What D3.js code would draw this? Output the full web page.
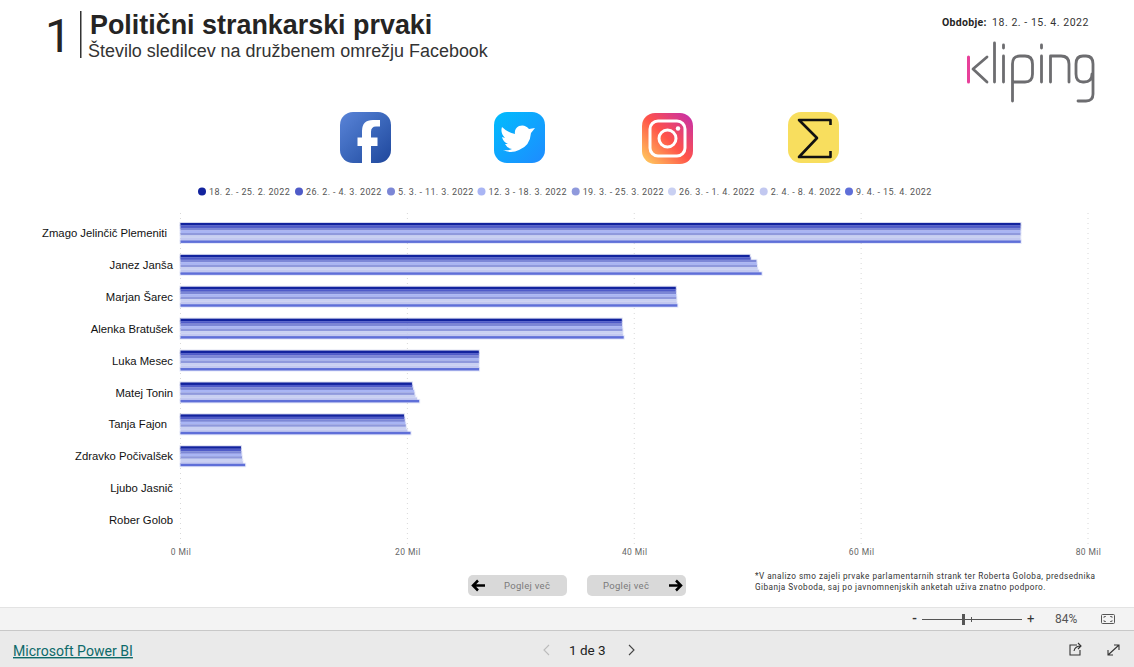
<!DOCTYPE html>
<html><head><meta charset="utf-8">
<style>html,body{margin:0;padding:0;background:#fff;overflow:hidden}svg{display:block}</style>
<script src="https://cdnjs.cloudflare.com/ajax/libs/d3/7.8.5/d3.min.js"></script>
</head><body><svg id="c" width="1134" height="667"></svg>
<script>
const politicians = ["Zmago Jelinčič Plemeniti","Janez Janša","Marjan Šarec","Alenka Bratušek","Luka Mesec","Matej Tonin","Tanja Fajon","Zdravko Počivalšek","Ljubo Jasnič","Rober Golob"];
const periods = ["18. 2. - 25. 2. 2022","26. 2. - 4. 3. 2022","5. 3. - 11. 3. 2022","12. 3 - 18. 3. 2022","19. 3. - 25. 3. 2022","26. 3. - 1. 4. 2022","2. 4. - 8. 4. 2022","9. 4. - 15. 4. 2022"];
const periodColors = ["#12239e","#4f5bc8","#7c87d6","#a9b5f4","#8f99dc","#c9d0f2","#c2c8f0","#5f6fd8"];
const followers = {
 "Zmago Jelinčič Plemeniti":[74.05,74.05,74.05,74.05,74.05,74.05,74.05,74.07],
 "Janez Janša":[50.18,50.26,50.77,50.8,50.82,50.88,51.0,51.23],
 "Marjan Šarec":[43.66,43.66,43.68,43.7,43.71,43.73,43.75,43.8],
 "Alenka Bratušek":[38.9,38.9,38.92,38.94,38.96,38.98,39.0,39.07],
 "Luka Mesec":[26.3,26.3,26.3,26.3,26.3,26.3,26.3,26.32],
 "Matej Tonin":[20.4,20.43,20.5,20.6,20.62,20.7,20.85,21.04],
 "Tanja Fajon":[19.7,19.73,19.77,19.82,19.86,19.9,20.0,20.28],
 "Zdravko Počivalšek":[5.33,5.33,5.36,5.38,5.42,5.46,5.5,5.7],
 "Ljubo Jasnič":[0,0,0,0,0,0,0,0],
 "Rober Golob":[0,0,0,0,0,0,0,0]
};
const xTicks = [0,20,40,60,80];
const title = "Politični strankarski prvaki", subtitle = "Število sledilcev na družbenem omrežju Facebook";
const din = "Roboto, 'Noto Sans', sans-serif", arial = "'Liberation Sans', Arial, sans-serif";

const svg = d3.select("#c");
function txt(g,x,y,s,size,fill,opts={}){
  const t=g.append("text").attr("x",x).attr("y",y).text(s).attr("font-size",size).attr("fill",fill)
   .attr("font-family",opts.family||arial).attr("font-weight",opts.weight||400).attr("text-anchor",opts.anchor||"start");
  if(opts.ls) t.attr("letter-spacing",opts.ls);
  return t;
}
// header
txt(svg,45,52,"1",47,"#252423",{family:"Roboto",weight:400});
svg.append("rect").attr("x",80).attr("y",11).attr("width",1.5).attr("height",47).attr("fill","#333");
txt(svg,90,34,title,26.9,"#252423",{weight:700});
txt(svg,88,57,subtitle,17.95,"#333");
txt(svg,942,26,"Obdobje:",10.5,"#252423",{family:din,weight:700,ls:.3});
txt(svg,992,26,"18. 2. - 15. 4. 2022",10.5,"#333",{family:din,ls:.55});

// kliping logo
const lg=svg.append("g").attr("fill","none").attr("stroke","#6d6d70").attr("stroke-width",2.8).attr("stroke-linecap","round").attr("stroke-linejoin","round");
lg.append("path").attr("d","M968.5 57V82").attr("stroke","#e8409a").attr("stroke-width",3);
lg.append("path").attr("d","M987 57L973 69L987 82");
lg.append("path").attr("d","M994.5 43V82");
lg.append("path").attr("d","M1003.5 45V48M1003.5 56V82");
lg.append("path").attr("d","M1012.5 101V64Q1012.5 56 1020 56H1025Q1032.5 56 1032.5 64V74Q1032.5 82 1025 82H1014");
lg.append("path").attr("d","M1041.5 45V48M1041.5 56V82");
lg.append("path").attr("d","M1050.5 82V56H1061Q1069 56 1069 64V82");
lg.append("path").attr("d","M1092 74Q1092 82 1084 82H1083Q1076 82 1076 74V64Q1076 56 1083 56H1086Q1093 56 1093 64V94Q1093 101 1086 101H1078");

// social icons
const defs=svg.append("defs");
function grad(id,stops,x1=0,y1=0,x2=1,y2=1){const g=defs.append("linearGradient").attr("id",id).attr("x1",x1).attr("y1",y1).attr("x2",x2).attr("y2",y2);
 stops.forEach((c,i)=>g.append("stop").attr("offset",i/(stops.length-1)).attr("stop-color",c));}
grad("fb",["#5a84d8","#3b67bb","#1f479c"]);
grad("tw",["#00bdfd","#1e8bff"],0,0,1,1);
grad("ig",["#ffd45f","#ff5349","#c32cb0"],0,1,1,0);
const ic=(x,y,f)=>svg.append("rect").attr("x",x).attr("y",y).attr("width",51).attr("height",51).attr("rx",13).attr("fill",f);
ic(340,112,"url(#fb)");
svg.append("path").attr("fill","#fff").attr("d","M371 163V146H377.5V137.5H371V132Q371 126.5 376 126.5H380V120H373Q362 120 362 131V137.5H357.5V146H362V163Z");
ic(494,112,"url(#tw)");
svg.append("path").attr("fill","#fff").attr("d","M535 128L529 129Q525 124 519 126Q514 129 515 134Q508 133 502 127Q500 133 505 138L502 137Q503 142 508 144L505 144Q507 148 512 149Q508 151 503 150Q511 154 519 150Q530 146 531 133Z");
ic(642,113,"url(#ig)");
const igG=svg.append("g").attr("fill","none").attr("stroke","#fff").attr("stroke-width",3);
igG.append("rect").attr("x",650).attr("y",121).attr("width",35).attr("height",35).attr("rx",8);
igG.append("circle").attr("cx",667.5).attr("cy",138.5).attr("r",8.5);
svg.append("circle").attr("cx",678).attr("cy",128.5).attr("r",2.2).attr("fill","#fff");
ic(788,112,"#f8de5e");
svg.append("path").attr("fill","none").attr("stroke","#111").attr("stroke-width",2.6).attr("stroke-linejoin","round")
 .attr("d","M830.5 125V120H799L817 138L799 157H830.5V151");

// legend
const legend=svg.append("g");
const lx=[202,299,391,481.5,575.7,672,763.7,849];
periods.forEach((p,i)=>{
  legend.append("circle").attr("cx",lx[i]).attr("cy",191.5).attr("r",4).attr("fill",periodColors[i]);
  txt(legend,lx[i]+7,195,p,9,"#555",{family:din,ls:.37});
});

// chart
const x=d3.scaleLinear().domain([0,80]).range([180.5,1088]);
const y=d3.scaleBand().domain(politicians).range([217,536]).paddingInner(12/32).paddingOuter(6/32);
const yi=d3.scaleBand().domain(periods).range([0,y.bandwidth()]);
const grid=svg.append("g");
grid.selectAll("line").data(xTicks).join("line").attr("x1",d=>x(d)).attr("x2",d=>x(d)).attr("y1",213).attr("y2",544)
  .attr("stroke","#d8d8d8").attr("stroke-width",1).attr("stroke-dasharray","1 4");
const bars=svg.append("g");
politicians.forEach(n=>{
  const rows=followers[n].map((v,i)=>({v,p:periods[i],c:periodColors[i]}));
  const g=bars.append("g").attr("transform",`translate(0,${y(n)})`);
  // pale halo around each bar, as in the reference
  g.selectAll("rect.h").data(rows.filter(d=>d.v>0)).join("rect").attr("class","h")
   .attr("x",x(0)-1).attr("y",d=>yi(d.p)-1).attr("width",d=>x(d.v)-x(0)+2).attr("height",yi.bandwidth()+2).attr("fill",d=>d.c).attr("opacity",.16);
  g.selectAll("rect.b").data(rows).join("rect").attr("class","b")
   .attr("x",x(0)).attr("y",d=>yi(d.p)).attr("width",d=>x(d.v)-x(0)).attr("height",yi.bandwidth()).attr("fill",d=>d.c);
});
const xa=svg.append("g").attr("transform","translate(0,547)").call(d3.axisBottom(x).tickValues(xTicks).tickSize(0).tickFormat(d=>d+" Mil"));
xa.select(".domain").remove();
xa.selectAll("text").attr("font-family",din).attr("font-size",8.5).attr("fill","#666").attr("letter-spacing",.4).attr("dy","0.55em").attr("y",3);
const ya=svg.append("g").attr("transform","translate(173,0)").call(d3.axisLeft(y).tickSize(0).tickPadding(0));
ya.select(".domain").remove();
ya.selectAll("text").attr("font-family",arial).attr("font-size",11.3).attr("fill","#111")
  .attr("dx",d=>(d===politicians[0]||d===politicians[6])?-6:0).attr("dy","0.36em");

// buttons
function button(bx,label,tx,arrowX,dir){
  const g=svg.append("g");
  g.append("rect").attr("x",bx).attr("y",575).attr("width",99).attr("height",21).attr("rx",5).attr("fill","#d9d9d9");
  txt(g,tx,589,label,9.5,"#7a7a7a",{family:din,ls:.3});
  const s=dir*1;
  g.append("path").attr("fill","none").attr("stroke","#000").attr("stroke-width",2.5)
   .attr("d",`M${arrowX-6*s} 585.5H${arrowX+6*s}M${arrowX+1*s} 580.5L${arrowX+6*s} 585.5L${arrowX+1*s} 590.5`);
}
button(468,"Poglej več",504,479,-1);
button(587,"Poglej več",603,675,1);
const note=svg.append("g");
txt(note,755,579,"*V analizo smo zajeli prvake parlamentarnih strank ter Roberta Goloba, predsednika",8.2,"#333",{family:din,ls:.46});
txt(note,755,590,"Gibanja Svoboda, saj po javnomnenjskih anketah uživa znatno podporo.",8.2,"#333",{family:din,ls:.46});

// Power BI footer
svg.append("rect").attr("x",0).attr("y",607).attr("width",1134).attr("height",24).attr("fill","#f3f3f3");
svg.append("rect").attr("x",0).attr("y",607).attr("width",1134).attr("height",1).attr("fill","#e3e3e3");
svg.append("rect").attr("x",0).attr("y",631).attr("width",1134).attr("height",36).attr("fill","#eaeaea");
svg.append("rect").attr("x",0).attr("y",630).attr("width",1134).attr("height",1).attr("fill","#c8c8c8");
txt(svg,13,656,"Microsoft Power BI",14.1,"#0e6a6a",{family:din}).attr("text-decoration","underline");
txt(svg,569,655,"1 de 3",13.5,"#222",{family:din});
svg.append("path").attr("fill","none").attr("stroke","#bbb").attr("stroke-width",1.1).attr("d","M549 645L544 650L549 655");
svg.append("path").attr("fill","none").attr("stroke","#444").attr("stroke-width",1.1).attr("d","M629 645L634 650L629 655");
txt(svg,912,623,"-",13,"#333",{family:din,weight:700});
svg.append("rect").attr("x",922).attr("y",619).attr("width",100).attr("height",1).attr("fill","#555");
svg.append("rect").attr("x",962).attr("y",614).attr("width",3).attr("height",11).attr("fill","#555");
svg.append("rect").attr("x",971).attr("y",617).attr("width",1).attr("height",5).attr("fill","#555");
txt(svg,1027,623,"+",13,"#333",{family:din});
txt(svg,1055,623,"84%",12,"#555",{family:din});
svg.append("rect").attr("x",1101.5).attr("y",614.5).attr("width",13).attr("height",9).attr("rx",1).attr("fill","none").attr("stroke","#555");
svg.append("path").attr("fill","none").attr("stroke","#555").attr("stroke-width",.8).attr("d","M1104 618V616.5H1106M1110 616.5H1112V618M1104 620V621.500H1106M1110 621.500H1112V620");
svg.append("path").attr("fill","none").attr("stroke","#333").attr("stroke-width",1.1).attr("d","M1077 645H1070V655H1080V650M1074 651Q1075 646 1081 646M1078 643L1081 646L1078 649");
svg.append("path").attr("fill","none").attr("stroke","#333").attr("stroke-width",1.1).attr("d","M1108 655L1119 645M1114 645H1119V650M1108 650V655H1113");
</script></body></html>
